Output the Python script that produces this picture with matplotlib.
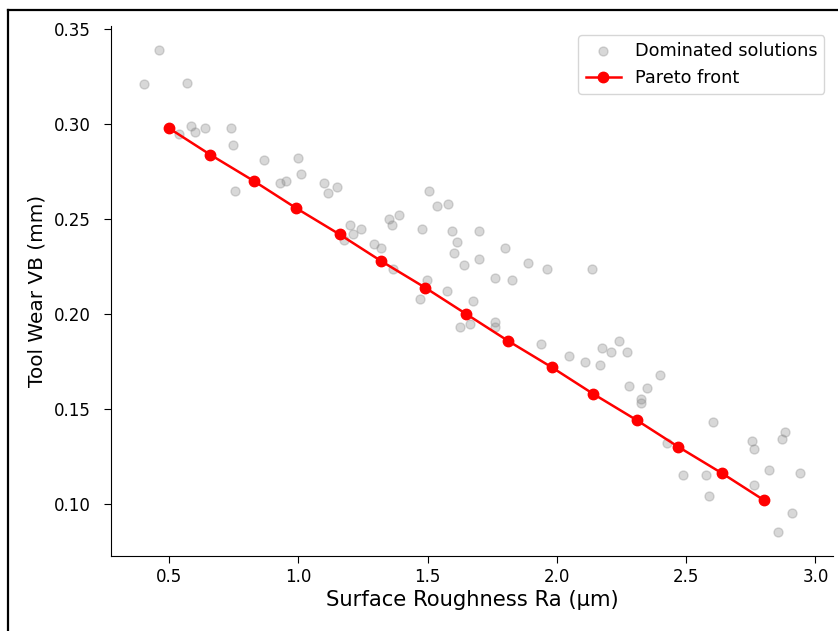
import matplotlib
matplotlib.use('Agg')
import matplotlib.pyplot as plt
from matplotlib.lines import Line2D

# ── Pareto front（紅線） ─────────────────────────────
pareto_ra = [0.50, 0.66, 0.83, 0.99, 1.16, 1.32, 1.49, 1.65,
             1.81, 1.98, 2.14, 2.31, 2.47, 2.64, 2.80]
pareto_vb = [0.298, 0.284, 0.270, 0.256, 0.242, 0.228, 0.214, 0.200,
             0.186, 0.172, 0.158, 0.144, 0.130, 0.116, 0.102]

# ── Dominated solutions（灰點） ───────────────────────
dom_ra = [0.463, 0.404, 0.571, 0.538, 0.585, 0.600, 0.640, 0.740, 0.747, 0.869,
          0.998, 1.010, 0.931, 0.954, 0.756, 1.099, 1.150, 1.116, 1.201, 1.242,
          1.213, 1.178, 1.350, 1.391, 1.364, 1.293, 1.319, 1.368, 1.507, 1.538,
          1.578, 1.479, 1.594, 1.700, 1.615, 1.602, 1.641, 1.699, 1.800, 1.889,
          1.961, 2.137, 1.761, 1.826, 1.498, 1.472, 1.575, 1.676, 1.626, 1.664,
          1.760, 1.760, 1.939, 2.048, 2.109, 2.166, 2.175, 2.210, 2.242, 2.270,
          2.278, 2.349, 2.327, 2.327, 2.398, 2.605, 2.425, 2.755, 2.763, 2.884,
          2.870, 2.822, 2.942, 2.489, 2.577, 2.764, 2.587, 2.908, 2.855]
dom_vb = [0.339, 0.321, 0.322, 0.295, 0.299, 0.296, 0.298, 0.298, 0.289, 0.281,
          0.282, 0.274, 0.269, 0.270, 0.265, 0.269, 0.267, 0.264, 0.247, 0.245,
          0.242, 0.239, 0.250, 0.252, 0.247, 0.237, 0.235, 0.224, 0.265, 0.257,
          0.258, 0.245, 0.244, 0.244, 0.238, 0.232, 0.226, 0.229, 0.235, 0.227,
          0.224, 0.224, 0.219, 0.218, 0.218, 0.208, 0.212, 0.207, 0.193, 0.195,
          0.196, 0.193, 0.184, 0.178, 0.175, 0.173, 0.182, 0.180, 0.186, 0.180,
          0.162, 0.161, 0.155, 0.153, 0.168, 0.143, 0.132, 0.133, 0.129, 0.138,
          0.134, 0.118, 0.116, 0.115, 0.115, 0.110, 0.104, 0.095, 0.085]

fig = plt.figure(figsize=(8.38, 6.31), dpi=100)
ax = fig.add_axes([0.1327, 0.1182, 0.8617, 0.8403])

ax.scatter(dom_ra, dom_vb, s=42, color='gray', alpha=0.3,
           label='Dominated solutions')
ax.plot(pareto_ra, pareto_vb, 'o-', color='red', lw=1.8, ms=7.5,
        label='Pareto front')

ax.set_xlabel('Surface Roughness Ra (µm)', fontsize=15.2, labelpad=3)
ax.set_ylabel('Tool Wear VB (mm)', fontsize=14.4, labelpad=5)
ax.tick_params(labelsize=12, length=5)
ax.tick_params(axis='y', pad=10)
ax.spines['top'].set_visible(False)
ax.spines['right'].set_visible(False)
ax.legend(loc='upper right', fontsize=12.7)

# 截圖外框
fig.add_artist(Line2D([7.5 / 838, 7.5 / 838], [0, 1 - 10 / 631],
                      color='black', lw=1.6, transform=fig.transFigure))
fig.add_artist(Line2D([7.5 / 838, 1], [1 - 10 / 631, 1 - 10 / 631],
                      color='black', lw=1.6, transform=fig.transFigure))

fig.savefig('out.png', dpi=100)
